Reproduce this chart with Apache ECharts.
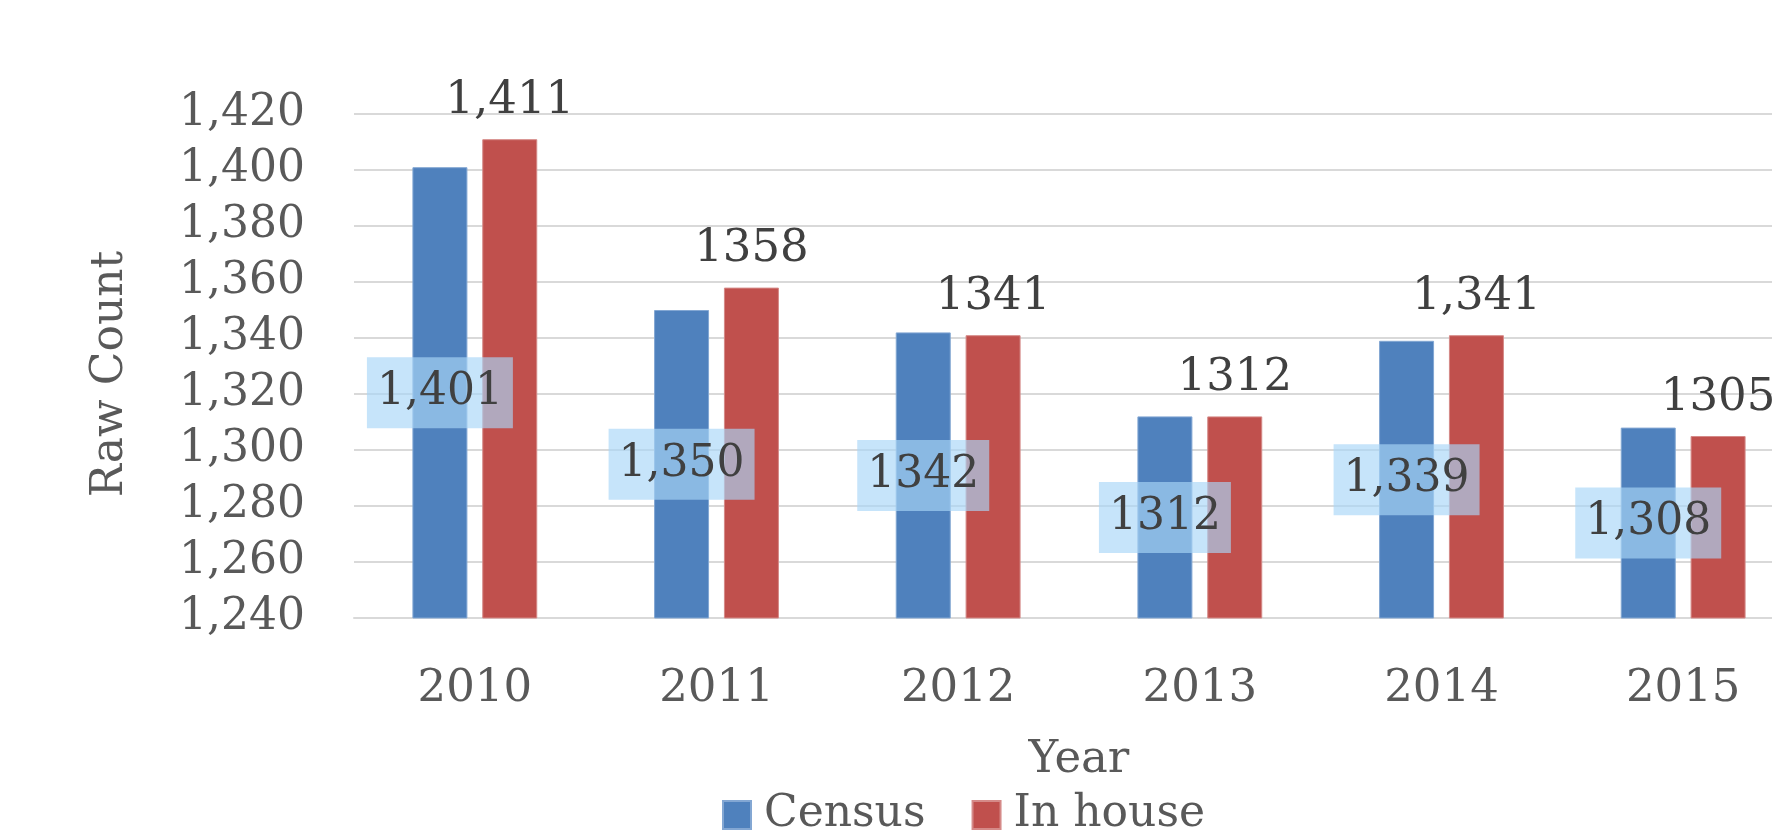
<!DOCTYPE html>
<html>
<head>
<meta charset="utf-8">
<script src="https://cdn.jsdelivr.net/npm/echarts@6/dist/echarts.min.js"></script>
<style>
    html, body { margin: 0; padding: 0; background: #fff; }
    #chart { width: 1772px; height: 838px; }
</style>
</head>
<body>
<div id="chart"></div>
<script>
    // 数据
    const years = ['2010', '2011', '2012', '2013', '2014', '2015']
    const census = [1401, 1350, 1342, 1312, 1339, 1308]
    const inHouse = [1411, 1358, 1341, 1312, 1341, 1305]
    // 标签文字（原图格式不统一，照抄）
    const censusLabels = ['1,401', '1,350', '1342', '1312', '1,339', '1,308']
    const inHouseLabels = ['1,411', '1358', '1341', '1312', '1,341', '1305']
    const yMin = 1240, yMax = 1420, yStep = 20

    const font = 'DejaVu Serif'
    const grey = '#595959'
    const dark = '#404040'

    const chart = echarts.init(document.getElementById('chart'))
    chart.setOption({
        animation: false,
        color: ['#4f81bd', '#c0504d'],
        grid: { left: 354, right: -32, top: 114, bottom: 220, containLabel: false, outerBoundsMode: 'none' },
        legend: {
            left: 717, top: 788,
            itemWidth: 28, itemHeight: 28, itemGap: 46,
            icon: 'rect',
            textStyle: { fontFamily: font, fontSize: 44, color: grey, lineHeight: 44, padding: [0, 0, 0, 8] },
            data: ['Census', 'In house']
        },
        xAxis: {
            type: 'category',
            data: years,
            name: 'Year',
            nameLocation: 'middle',
            nameGap: 120,
            nameTextStyle: { fontFamily: font, fontSize: 45, color: grey, lineHeight: 44 },
            axisLine: { lineStyle: { color: '#d9d9d9', width: 2 } },
            axisTick: { show: false },
            axisLabel: { fontFamily: font, fontSize: 45, color: grey, lineHeight: 44, margin: 49 }
        },
        yAxis: {
            type: 'value',
            min: yMin, max: yMax, interval: yStep,
            name: 'Raw Count',
            nameLocation: 'middle',
            nameGap: 221,
            nameTextStyle: { fontFamily: font, fontSize: 44, color: grey, lineHeight: 44, padding: [0, 16, 0, 0] },
            axisLine: { show: false },
            axisTick: { show: false },
            splitLine: { lineStyle: { color: '#d9d9d9', width: 2 } },
            axisLabel: {
                fontFamily: font, fontSize: 44, color: grey, margin: 49,
                formatter: v => v.toLocaleString('en-US')
            }
        },
        series: [
            {
                name: 'Census', type: 'bar',
                data: census,
                barWidth: 55, barGap: '27%',
                itemStyle: { borderColor: '#83a7d3', borderWidth: 1 },
                label: {
                    show: true, position: 'inside',
                    fontFamily: font, fontSize: 44, color: dark, lineHeight: 44,
                    backgroundColor: 'rgba(168,214,248,0.66)',
                    padding: [13, 10, 14, 10],
                    formatter: p => censusLabels[p.dataIndex]
                }
            },
            {
                name: 'In house', type: 'bar',
                data: inHouse,
                barWidth: 55,
                itemStyle: { borderColor: '#d58a88', borderWidth: 1 },
                label: {
                    show: true, position: 'top', distance: 16,
                    fontFamily: font, fontSize: 45, color: dark, lineHeight: 44,
                    formatter: p => inHouseLabels[p.dataIndex]
                }
            }
        ]
    })
</script>
</body>
</html>
